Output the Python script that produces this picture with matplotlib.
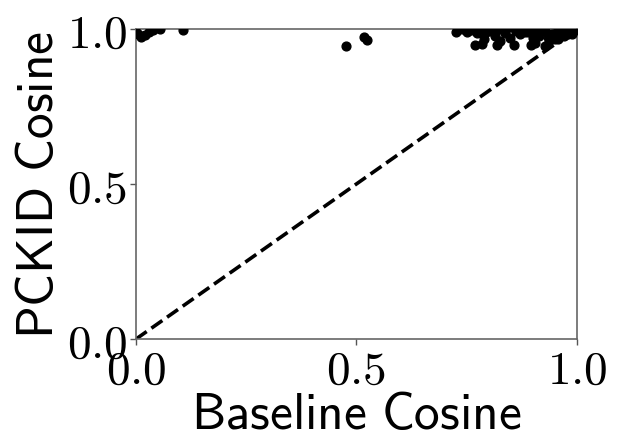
import matplotlib
matplotlib.use("Agg")
import matplotlib.pyplot as plt
import numpy as np

plt.rcParams["mathtext.fontset"] = "cm"

# baseline cosine (x) vs PCKID cosine (y)
baseline_cos = [
    0.000, 0.005, 0.012, 0.020, 0.030, 0.040, 0.055, 0.107,
    0.476, 0.517, 0.525,
    0.727, 0.751, 0.773, 0.770, 0.785, 0.794, 0.802, 0.818, 0.814, 0.790,
    0.826, 0.836, 0.849, 0.858, 0.861, 0.870, 0.883, 0.896, 0.901, 0.905,
    0.914, 0.928, 0.928, 0.937, 0.941, 0.950, 0.959, 0.968, 0.976, 0.985,
    0.994, 0.740, 0.760, 0.780, 0.800, 0.820, 0.840, 0.860, 0.880, 0.900,
    0.920, 0.945, 0.955, 0.960, 0.965, 0.970, 0.975, 0.980, 0.985, 0.990,
    0.995, 1.000, 0.948, 0.958, 0.972, 0.988, 0.935, 0.910, 0.890,
]
pckid_cos = [
    0.990, 0.985, 0.975, 0.980, 0.990, 0.995, 0.998, 0.997,
    0.944, 0.974, 0.964,
    0.990, 0.990, 0.986, 0.948, 0.950, 0.990, 0.993, 0.948, 0.977, 0.966,
    0.960, 0.987, 0.971, 0.948, 0.993, 0.982, 0.989, 0.948, 0.971, 0.955,
    0.976, 0.944, 0.993, 0.961, 0.982, 0.966, 0.977, 0.987, 0.982, 0.993,
    0.996, 0.998, 0.997, 0.999, 0.998, 0.997, 0.999, 0.998, 0.999, 0.998,
    0.999, 0.985, 0.990, 0.975, 0.995, 0.978, 0.990, 0.985, 0.998, 0.985,
    0.997, 1.000, 0.972, 0.968, 0.984, 0.992, 0.975, 0.985, 0.990,
]

ticks = [0.0, 0.5, 1.0]
tick_labels = [r"$0.0$", r"$0.5$", r"$1.0$"]

fig = plt.figure(figsize=(6.17, 4.39), dpi=100)
ax = fig.add_axes([0.220, 0.225, 0.715, 0.707])

ax.plot([0, 1], [0, 1], color="black", linestyle="--", linewidth=2.6, zorder=2)
ax.scatter(baseline_cos, pckid_cos, s=40, color="black", zorder=3)

ax.set_xlim(0, 1)
ax.set_ylim(0, 1)
ax.set_xticks(ticks)
ax.set_yticks(ticks)
ax.set_xticklabels(tick_labels, fontsize=34)
ax.set_yticklabels(tick_labels, fontsize=34)
ax.tick_params(length=4, width=1, color="#555555", pad=2)
for sp in ax.spines.values():
    sp.set_color("#666666")
    sp.set_linewidth(1.2)

ax.set_xlabel(r"$\mathsf{Baseline\ Cosine}$", fontsize=37, labelpad=-2.5)
ax.set_ylabel(r"$\mathsf{PCKID\ Cosine}$", fontsize=37, labelpad=2)

fig.savefig("out.png", dpi=100)
